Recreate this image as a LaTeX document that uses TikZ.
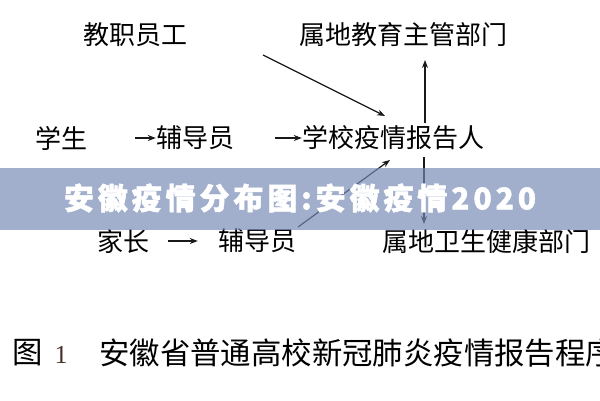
\documentclass[tikz,border=0pt]{standalone}
\usepackage{fontspec}
\usetikzlibrary{arrows.meta,calc}
\newfontfamily\cjk{Noto Sans CJK SC}
\newfontfamily\cjkbanner[LetterSpace=13,BoldFeatures={FakeBold=1.5}]{Noto Sans CJK SC}
\newfontfamily\numfont{Liberation Serif}
\definecolor{bannerc}{RGB}{117,138,181}
\definecolor{linec}{RGB}{25,25,25}
\definecolor{onec}{RGB}{70,50,40}
\tikzset{
  lbl/.style={inner sep=0pt, font=\cjk\fontsize{26}{30}\selectfont, text=black},
  captionlbl/.style={inner sep=0pt, font=\cjk\fontsize{30.4}{34}\selectfont, text=black},
  arr/.style={draw=linec, line width=1.2pt, -{Stealth[length=8pt,width=6pt]}},
}
\begin{document}
\begin{tikzpicture}[x=1pt,y=-1pt]
\useasboundingbox (0,0) rectangle (600,400);
\fill[white] (0,0) rectangle (600,400);
% nodes
\node[lbl] (jzyg) at (135,35) {教职员工};
\node[lbl] (sdjy) at (403,35) {属地教育主管部门};
\node[lbl] (xs) at (61,138) {学生};
\node[lbl] (fdy1) at (195,138) {辅导员};
\node[lbl] (bgr) at (393,138) {学校疫情报告人};
\node[lbl] (jz) at (123,241) {家长};
\node[lbl] (fdy2) at (257,241) {辅导员};
\node[lbl] (sdws) at (486,241) {属地卫生健康部门};
% connectors
\coordinate (a1) at ($(xs.east)+(48,0)$);
\draw[arr] (a1) -- (fdy1.west);
\coordinate (a2) at ($(fdy1.east)+(41,0)$);
\draw[arr] (a2) -- (bgr.west);
\coordinate (a3) at (263,55);
\coordinate (a3e) at (385,116);
\draw[arr] (a3) -- (a3e);
\coordinate (up0) at (425,123);
\coordinate (up1) at (425,60);
\draw[arr] (up0) -- (up1);
\coordinate (dn0) at (424,157);
\coordinate (dn1) at (424,224);
\draw[arr] (dn0) -- (dn1);
\coordinate (d0) at (298,227);
\coordinate (d1) at (390,160);
\draw[arr] (d0) -- (d1);
\coordinate (a4) at ($(jz.east)+(19,0)$);
\coordinate (a4e) at ($(fdy2.west)+(-20,0)$);
\draw[arr] (a4) -- (a4e);
% caption
\begin{scope}
\clip (0,0) rectangle (600,400);
\node[captionlbl] (tu) at (28,353) {图};
\node[inner sep=0pt, font=\numfont\fontsize{26}{30}\selectfont, text=onec] (one) at (61,355) {1};
\node[captionlbl, anchor=west] (captxt) at (99,353) {安徽省普通高校新冠肺炎疫情报告程序};
\end{scope}
% banner
\fill[bannerc, fill opacity=0.68] (0,168) rectangle (600,230);
\node[inner sep=0pt, text=white, font=\cjkbanner\bfseries\fontsize{30}{34}\selectfont] (banner) at (300,198) {安徽疫情分布图:安徽疫情2020};
\end{tikzpicture}
\end{document}
